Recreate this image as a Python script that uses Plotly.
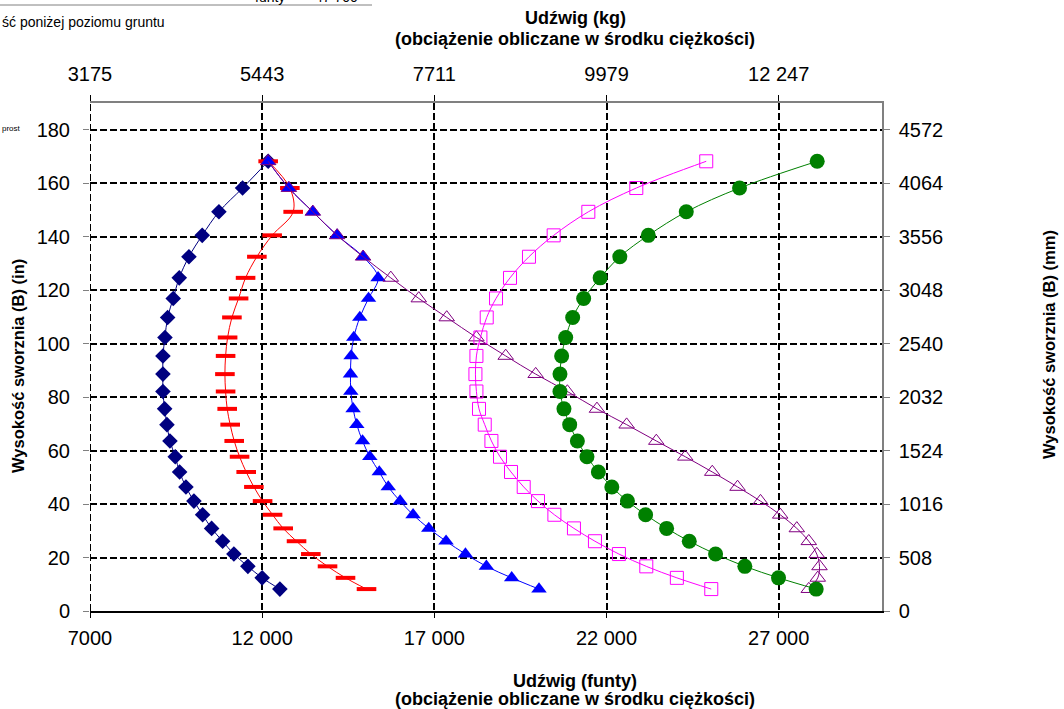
import plotly.graph_objects as go

# Pin heights (in) shared by all load curves
heights = [168.2, 158.2, 149.3, 140.5, 132.5, 124.6, 116.9, 109.8, 102.3, 95.4,
           88.6, 82.1, 75.6, 69.7, 63.6, 57.7, 52.0, 46.4, 41.1, 36.0,
           30.9, 26.1, 21.3, 16.7, 12.4, 8.2]

# Lifting capacity (lb) for each curve
navy_lb = [12174, 11431, 10744, 10259, 9873, 9592, 9417, 9255, 9177, 9118,
           9118, 9118, 9168, 9235, 9322, 9475, 9603, 9786, 10018, 10271,
           10532, 10851, 11179, 11585, 12000, 12514]
red_lb = [12174, 12804, 12900, 12290, 11846, 11518, 11315, 11121, 10996, 10938,
          10918, 10938, 10984, 11071, 11188, 11344, 11536, 11759, 12012, 12302,
          12610, 12998, 13413, 13898, 14420, 15030]
blue_lb = [12174, 12775, 13471, 14177, 14931, 15366, 15088, 14835, 14661, 14583,
           14565, 14574, 14641, 14748, 14914, 15126, 15401, 15662, 16005, 16382,
           16838, 17340, 17903, 18512, 19246, 20039]
purple_lb = [12174, 12775, 13471, 14177, 14931, 15735, 16548, 17360, 18222, 19072,
             19943, 20863, 21722, 22584, 23446, 24287, 25071, 25805, 26472, 27044,
             27526, 27874, 28106, 28185, 28135, 27874]
magenta_lb = [24896, 22865, 21472, 20465, 19748, 19197, 18791, 18521, 18338, 18222,
              18193, 18222, 18297, 18463, 18657, 18907, 19226, 19595, 20010, 20486,
              21054, 21664, 22360, 23155, 24043, 25042]
green_lb = [28118, 25863, 24316, 23213, 22386, 21815, 21336, 21017, 20814, 20697,
            20648, 20648, 20764, 20930, 21153, 21432, 21763, 22154, 22607, 23135,
            23745, 24403, 25167, 26017, 26995, 28089]

# Axis ticks (secondary axes share the lb / in positions, labelled in kg / mm)
lb_ticks = [7000, 12000, 17000, 22000, 27000]
lb_labels = ["7000", "12 000", "17 000", "22 000", "27 000"]
kg_labels = ["3175", "5443", "7711", "9979", "12 247"]
in_ticks = [0, 20, 40, 60, 80, 100, 120, 140, 160, 180]
mm_labels = ["0", "508", "1016", "1524", "2032", "2540", "3048", "3556", "4064", "4572"]

X_RANGE = [7000, 30000]
Y_RANGE = [0, 190]

FONT = "Arial, Liberation Sans, sans-serif"
TICK = 20

series = [
    (navy_lb, "#000080", dict(symbol="diamond", size=12, color="#000080"), "x", "y"),
    (red_lb, "#FF0000", dict(symbol="line-ew", size=14, color="#FF0000",
                             line=dict(color="#FF0000", width=4)), "x", "y"),
    (blue_lb, "#0000FF", dict(symbol="triangle-up", size=13.5, color="#0000FF"), "x", "y"),
    (purple_lb, "#800080", dict(symbol="triangle-up-open", size=13.5, color="#800080",
                                line=dict(color="#800080", width=1)), "x", "y"),
    (magenta_lb, "#FF00FF", dict(symbol="square-open", size=13, color="#FF00FF",
                                 line=dict(color="#FF00FF", width=1)), "x", "y"),
    # last curve is drawn on the secondary (kg / mm) axes, which share the same ranges
    (green_lb, "#008000", dict(symbol="circle", size=15, color="#008000"), "x2", "y2"),
]

fig = go.Figure()
for xs, col, mk, xa, ya in series:
    fig.add_trace(go.Scatter(
        x=xs, y=heights, mode="lines+markers", xaxis=xa, yaxis=ya,
        line=dict(color=col, width=1, shape="spline", smoothing=1),
        marker=mk, showlegend=False, hoverinfo="skip"))

DASH = "7px,3px"
grid = dict(showgrid=True, gridcolor="#000000", gridwidth=2, griddash=DASH)

fig.update_layout(
    width=1064, height=709, autosize=False,
    margin=dict(l=90, r=182, t=103, b=98),
    paper_bgcolor="white", plot_bgcolor="white",
    font=dict(family=FONT, color="#000000"),
    xaxis=dict(range=X_RANGE, tickvals=lb_ticks, ticktext=lb_labels,
               tickfont=dict(size=TICK), ticks="outside", ticklen=5, tickcolor="#000000",
               ticklabelstandoff=3,
               showline=True, linecolor="#000000", linewidth=1.5, zeroline=False, **grid),
    xaxis2=dict(range=X_RANGE, overlaying="x", side="top", tickvals=lb_ticks,
                ticktext=kg_labels, tickfont=dict(size=TICK), ticks="outside", ticklen=6,
                ticklabelstandoff=6,
                tickcolor="#000000", showline=True, linecolor="#808080", linewidth=1.5,
                showgrid=False, zeroline=False),
    yaxis=dict(range=Y_RANGE, tickvals=in_ticks, tickfont=dict(size=TICK),
               ticks="outside", ticklen=6, tickcolor="#808080", showline=False,
               ticklabelstandoff=9, zeroline=False, **grid),
    yaxis2=dict(range=Y_RANGE, overlaying="y", side="right", tickvals=in_ticks,
                ticktext=mm_labels, tickfont=dict(size=TICK), ticks="outside", ticklen=6,
                ticklabelstandoff=5,
                tickcolor="#808080", showline=True, linecolor="#808080", linewidth=1.5,
                showgrid=False, zeroline=False),
)

# dashed gridline along the left edge of the plot area (first lb tick)
fig.add_shape(type="line", xref="x", yref="y", x0=lb_ticks[0], x1=lb_ticks[0],
              y0=Y_RANGE[0], y1=Y_RANGE[1], layer="below",
              line=dict(color="#000000", width=2, dash=DASH))

L, R, T, B = 90, 882, 103, 611


def px(xp, yp):
    return (xp - L) / (R - L), (B - yp) / (B - T)


def note(text, xp, yp, size=18, bold=True, angle=0, xanchor="center", yanchor="middle"):
    ax, ay = px(xp, yp)
    fig.add_annotation(text=f"<b>{text}</b>" if bold else text, x=ax, y=ay,
                       xref="paper", yref="paper", showarrow=False, textangle=angle,
                       xanchor=xanchor, yanchor=yanchor,
                       font=dict(size=size, family=FONT, color="#000000"))


note("Udźwig (kg)", 575, 18)
note("(obciążenie obliczane w środku ciężkości)", 575, 39)
note("Udźwig (funty)", 575, 681)
note("(obciążenie obliczane w środku ciężkości)", 575, 699)
note("Wysokość sworznia (B) (in)", 18, 366, size=16.5, angle=-90)
note("Wysokość sworznia (B) (mm)", 1049, 345, size=16.5, angle=-90)
note("ść poniżej poziomu gruntu", 0, 22, size=14, bold=False, xanchor="left")
note("funty", 253, 7, size=14, bold=False, xanchor="left", yanchor="bottom")
note("47 700", 313, 7, size=14, bold=False, xanchor="left", yanchor="bottom")
note("prost", 0, 128, size=8, bold=False, xanchor="left")

x0, y0 = px(0, 5)
x1, _ = px(372, 5)
fig.add_shape(type="line", xref="paper", yref="paper", x0=x0, x1=x1, y0=y0, y1=y0,
              line=dict(color="#808080", width=1))

fig.write_html("out.html")
